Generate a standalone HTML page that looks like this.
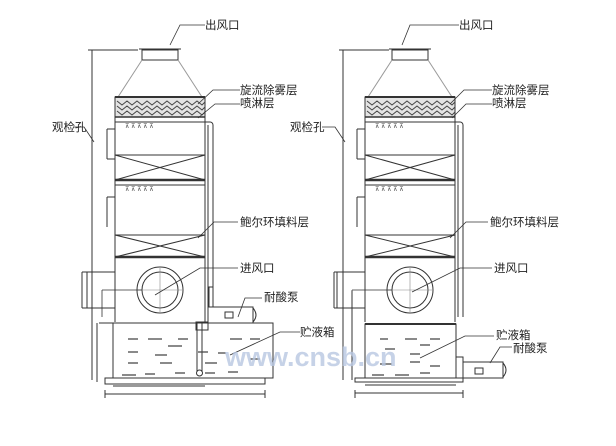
<!DOCTYPE html><html><head><meta charset="utf-8"><style>body{margin:0;background:#fff}svg{display:block}text{font-family:"Liberation Sans","Noto Sans CJK SC",sans-serif;font-size:11.5px;fill:#222}</style></head><body>
<svg width="616" height="446" viewBox="0 0 616 446" xmlns="http://www.w3.org/2000/svg">
<defs>
<g id="tw" stroke="#333" fill="none" stroke-width="1">
<rect x="27" y="-67" width="36" height="10" fill="#fff"/>
<line x1="24" y1="-68" x2="66" y2="-68"/>
<line x1="3" y1="-20" x2="27" y2="-57" stroke="#999"/>
<line x1="87" y1="-20" x2="63" y2="-57" stroke="#999"/>
<rect x="0" y="-20" width="90" height="20" fill="#e4e4e4"/>
<line x1="0" y1="-20" x2="90" y2="-20" stroke-width="2"/>
<path d="M2 -16 l5 4 l5 -4 l5 4 l5 -4 l5 4 l5 -4 l5 4 l5 -4 l5 4 l5 -4 l5 4 l5 -4 l5 4 l5 -4 l5 4 l5 -4 l5 4 l3 -3 M2 -11 l5 4 l5 -4 l5 4 l5 -4 l5 4 l5 -4 l5 4 l5 -4 l5 4 l5 -4 l5 4 l5 -4 l5 4 l5 -4 l5 4 l5 -4 l5 4 l3 -3 M2 -6 l5 4 l5 -4 l5 4 l5 -4 l5 4 l5 -4 l5 4 l5 -4 l5 4 l5 -4 l5 4 l5 -4 l5 4 l5 -4 l5 4 l5 -4 l5 4 l3 -3" stroke="#444"/>
<line x1="0" y1="0" x2="90" y2="0" stroke-width="1.5"/>
<line x1="0" y1="0" x2="0" y2="205"/>
<line x1="90" y1="0" x2="90" y2="205"/>
<line x1="0" y1="5" x2="90" y2="5"/>
<line x1="0" y1="68" x2="90" y2="68"/>
<path d="M90 5 h5 a3 3 0 0 1 3 3 V200" />
<path d="M93 8 V200"/>
<text x="10" y="11" style="font-size:6px;fill:#444" stroke="none">⊼ ⊼ ⊼ ⊼ ⊼</text>
<text x="10" y="74" style="font-size:6px;fill:#444" stroke="none">⊼ ⊼ ⊼ ⊼ ⊼</text>
<rect x="0" y="38" width="90" height="25"/><path d="M0 38 L90 63 M90 38 L0 63"/><line x1="0" y1="63" x2="90" y2="63" stroke-width="2.5"/>
<rect x="0" y="118" width="90" height="22"/><path d="M0 118 L90 140 M90 118 L0 140"/><line x1="0" y1="140" x2="90" y2="140" stroke-width="2.5"/>
<path d="M-8 12 v30 M-8 12 h8 M-8 42 h8"/>
<path d="M-8 80 v30 M-8 80 h8"/>
<rect x="-28" y="155" width="28" height="36"/>
<circle cx="45" cy="173" r="23"/><circle cx="45" cy="173" r="18"/>
<path d="M45 151 v44 M23 173 h44" stroke="#888" stroke-width=".6"/>
<path d="M-13 173 V200 M-13 173 h40" stroke-width=".8"/>
</g>
</defs>
<use href="#tw" x="115" y="117"/>
<use href="#tw" x="365" y="117"/>
<g stroke="#333" fill="none" stroke-width="1">
<path d="M92 50 V380 M88 50 h50 M82 272 v36 M82 272 h6 M82 308 h6 M97 323 V382"/>
<rect x="113" y="323" width="160" height="55"/>
<line x1="99" y1="323" x2="113" y2="323"/>
<rect x="105" y="378" width="160" height="6"/>
<path d="M105 394 H265 M113 386 H205 M105 390 v8 M265 390 v8"/>
<rect x="196" y="322" width="12" height="8"/>
<path d="M197 322 V372 M202 322 V372"/><circle cx="199.5" cy="373" r="3"/>
<rect x="208" y="307" width="45" height="16" fill="#fff"/><path d="M253 308 q6 7 0 14"/><rect x="225" y="312" width="8" height="6"/>
<path d="M209 307 v-20 h4 v20" />
<g stroke="#444" stroke-width="1.2"><path d="M128 339h10M148 339h14M178 339h10M230 339h12M250 339h10M168 346h14M128 352h10M155 355h12M198 352h10M218 353h8M128 363h10M160 363h12M205 363h12M250 359h10M122 375h14M145 374h10M175 373h10M205 373h10M228 372h10"/></g>
<path d="M343 50 V380 M339 50 h50 M334 272 v36 M334 272 h6 M334 308 h6 M352 291 V380"/>
<rect x="355" y="378" width="108" height="4"/>
<path d="M365 385 H456 M355 393 H463 M355 390 v8 M463 390 v8"/>
<rect x="365" y="324" width="91" height="54"/>
<line x1="365" y1="324" x2="456" y2="324" stroke-width="2"/>
<rect x="456" y="357" width="7" height="21"/>
<rect x="463" y="362" width="40" height="16"/><path d="M503 363 q6 7 0 14"/><rect x="475" y="368" width="8" height="6"/>
<g stroke="#444" stroke-width="1.2"><path d="M380 339h8M405 339h12M430 339h10M420 345h10M385 349h10M410 354h10M380 364h12M410 362h10M430 366h10M372 375h12M395 375h14M420 373h10"/></g>
<g stroke="#333" stroke-width=".8">
<path d="M170 45 L180 25 H205"/><path d="M402 45 L410 25 H459"/>
<path d="M198 104 L213 90 H240"/><path d="M450 104 L464 90 H492"/>
<path d="M198 118 L215 104 H240"/><path d="M452 118 L466 104 H492"/>
<path d="M73 127 L84 127 L94 142"/><path d="M322 127 L335 127 L345 142"/>
<path d="M198 238 L214 222 H238"/><path d="M450 238 L466 222 H488"/>
<path d="M155 295 L200 268 H238"/><path d="M412 292 L460 268 H492"/>
<path d="M238 317 L245 298 H262"/><path d="M490 363 L500 347 H512"/>
<path d="M230 355 L280 332 H300"/><path d="M420 358 L465 336 H494"/>
</g>
</g>
<text x="205" y="29">出风口</text><text x="459" y="29">出风口</text>
<text x="240" y="94">旋流除雾层</text><text x="492" y="94">旋流除雾层</text>
<text x="240" y="107">喷淋层</text><text x="492" y="107">喷淋层</text>
<text x="52" y="131">观检孔</text><text x="290" y="131">观检孔</text>
<text x="240" y="226">鲍尔环填料层</text><text x="490" y="226">鲍尔环填料层</text>
<text x="240" y="272">进风口</text><text x="494" y="272">进风口</text>
<text x="264" y="301">耐酸泵</text><text x="513" y="352">耐酸泵</text>
<text x="300" y="336">贮液箱</text><text x="496" y="339">贮液箱</text>
<text x="225" y="366" style="font-size:27px;font-weight:bold;fill:#b9c8e2;opacity:.8">www.cnsb.cn</text>
</svg></body></html>
